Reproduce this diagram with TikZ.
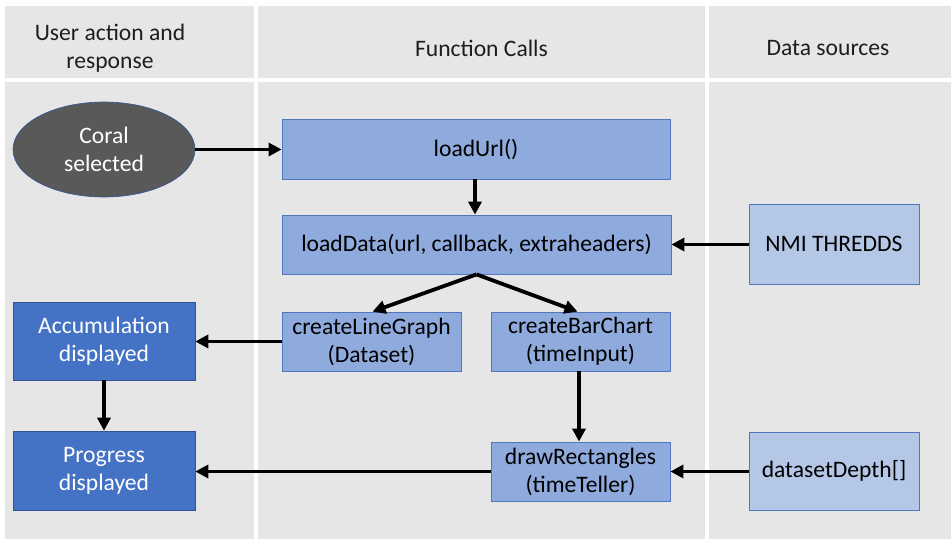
\documentclass[tikz,border=0pt]{standalone}
\usepackage{fontspec}
\setmainfont{Carlito}
\usetikzlibrary{arrows.meta,shapes.geometric}

\definecolor{panel}{RGB}{231,230,230}
\definecolor{lightblue}{RGB}{143,170,220}
\definecolor{paleblue}{RGB}{180,199,231}
\definecolor{deepblue}{RGB}{68,114,196}
\definecolor{edgeblue}{RGB}{82,118,190}
\definecolor{darkedge}{RGB}{47,85,151}
\definecolor{coralgray}{RGB}{89,89,89}
\definecolor{headtext}{RGB}{30,30,30}

\tikzset{
  lane/.style={fill=panel, draw=none},
  boxtext/.style={font=\fontsize{23.6}{28}\selectfont, align=center, inner sep=0pt},
  callbox/.style={boxtext, rectangle, fill=lightblue, draw=edgeblue, line width=0.8pt, text=black},
  sourcebox/.style={boxtext, rectangle, fill=paleblue, draw=edgeblue, line width=0.8pt, text=black},
  viewbox/.style={boxtext, rectangle, fill=deepblue, draw=darkedge, line width=0.6pt, text=white},
  actionoval/.style={boxtext, ellipse, fill=coralgray, draw=darkedge, line width=0.6pt, text=white},
  header/.style={boxtext, text=headtext},
  flow/.style={line width=3.8pt, -{Triangle[length=13pt, width=13pt]}}
}

\begin{document}
\begin{tikzpicture}[x=1pt, y=-1pt]
  \useasboundingbox (0,0) rectangle (951,539);
  \fill[white] (0,0) rectangle (951,539);

  % swim lanes: header row and body row
  \fill[lane] (5,6) rectangle (254,78);
  \fill[lane] (258,6) rectangle (705,78);
  \fill[lane] (709,6) rectangle (951,78);
  \fill[lane] (5,82) rectangle (254,539);
  \fill[lane] (258,82) rectangle (705,539);
  \fill[lane] (709,82) rectangle (951,539);

  % lane titles
  \node[header] (h1) at (110,48) {User action and\\response};
  \node[header] (h2) at (481.5,48) {Function Calls};
  \node[header] (h3) at (828,48) {Data sources};

  % user side
  \node[actionoval, minimum width=182pt, minimum height=95pt] (coral) at (104,149.5) {Coral\\selected};
  \node[viewbox, minimum width=182pt, minimum height=78pt] (accum) at (104,341) {Accumulation\\displayed};
  \node[viewbox, minimum width=182pt, minimum height=79pt] (progress) at (104,470.5) {Progress\\displayed};

  % function calls
  \node[callbox, minimum width=388pt, minimum height=60pt] (loadurl) at (476,149) {loadUrl()};
  \node[callbox, minimum width=389pt, minimum height=59pt] (loaddata) at (476.5,244.5) {loadData(url, callback, extraheaders)};
  \node[callbox, minimum width=179pt, minimum height=59pt] (linegraph) at (371.5,341.5) {createLineGraph\\(Dataset)};
  \node[callbox, minimum width=179pt, minimum height=59pt] (barchart) at (580.5,341.5) {createBarChart\\(timeInput)};
  \node[callbox, minimum width=179pt, minimum height=59pt] (drawrect) at (580.5,471.5) {drawRectangles\\(timeTeller)};

  % data sources
  \node[sourcebox, minimum width=170pt, minimum height=80pt] (nmi) at (834,244) {NMI THREDDS};
  \node[sourcebox, minimum width=170pt, minimum height=78pt] (depth) at (834,471) {datasetDepth[]};

  % connectors
  \draw[flow] (coral.east) -- (coral.east -| loadurl.west);
  \draw[flow] (loadurl.south -| 475,0) -- (loaddata.north -| 475,0);
  \draw[flow] (loaddata.south) -- ([xshift=1pt]linegraph.north);
  \draw[flow] (loaddata.south) -- ([xshift=-3pt]barchart.north);
  \draw[flow] (nmi.west |- loaddata.east) -- (loaddata.east);
  \draw[flow] (linegraph.west) -- (linegraph.west -| accum.east);
  \draw[flow] (accum.south) -- (progress.north);
  \draw[flow] ([xshift=-1.5pt]barchart.south) -- ([xshift=-1.5pt]drawrect.north);
  \draw[flow] (drawrect.west) -- (drawrect.west -| progress.east);
  \draw[flow] (depth.west |- drawrect.east) -- (drawrect.east);
\end{tikzpicture}
\end{document}
